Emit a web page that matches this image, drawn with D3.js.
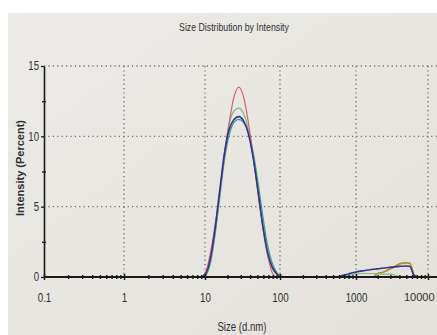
<!DOCTYPE html>
<html>
<head>
<meta charset="utf-8">
<script src="https://cdn.jsdelivr.net/npm/d3@7"></script>
<style>
  html, body { margin: 0; padding: 0; background: #ffffff; }
  svg { display: block; }
  text { font-family: "Liberation Sans Narrow", "Liberation Sans", Arial, sans-serif; fill: #2e2e2e; }
</style>
</head>
<body>
<svg id="chart" width="437" height="335"></svg>
<script>
// ---- data ----
const title = "Size Distribution by Intensity";
const xLabel = "Size (d.nm)";
const yLabel = "Intensity (Percent)";

const sizes = [0.4, 0.4632, 0.5365, 0.6213, 0.7195, 0.8332, 0.9649, 1.117, 1.294, 1.499,
  1.736, 2.010, 2.328, 2.696, 3.122, 3.615, 4.187, 4.849, 5.615, 6.503,
  7.531, 8.721, 10.10, 11.70, 13.54, 15.69, 18.17, 21.04, 24.36, 28.21,
  32.67, 37.84, 43.82, 50.75, 58.77, 68.06, 78.82, 91.28, 105.7, 122.4,
  141.8, 164.2, 190.1, 220.2, 255.0, 295.3, 342.0, 396.1, 458.7, 531.2,
  615.1, 712.4, 825.0, 955.4, 1106, 1281, 1484, 1718, 1990, 2305,
  2669, 3091, 3580, 4145, 4801, 5560, 6439, 7456, 8635, 10000];

const recordOrange = [0,0,0,0,0,0,0,0,0,0, 0,0,0,0,0,0,0,0,0,0,
  0,0,0,0,0,0,0,0,0,0, 0,0,0,0,0,0,0,0,0,0,
  0,0,0,0,0,0,0,0,0,0, 0,0,0,0,0,0,0,0,0.25,0.32,
  0.45,0.6,0.8,0.95,1.0,0.98,0.15,0,0,0];

const recordTeal = [0,0,0,0,0,0,0,0,0,0, 0,0,0,0,0,0,0,0,0,0,
  0,0,0.1,0.9,2.9,5.6,8.3,10.1,11.0,11.2,
  11.0,10.3,8.9,6.8,4.4,2.3,1.0,0.3,0.05,0,
  0,0,0,0,0,0,0,0,0,0, 0,0,0,0,0,0,0,0,0,0,
  0,0,0,0,0,0,0,0,0,0];

const recordGreen = [0,0,0,0,0,0,0,0,0,0, 0,0,0,0,0,0,0,0,0,0,
  0,0,0.1,1.0,3.0,5.9,8.8,10.9,11.8,12.0,
  11.6,10.5,8.6,6.1,3.6,1.6,0.6,0.15,0,0,
  0,0,0,0,0,0,0,0,0,0, 0,0,0.15,0.2,0.25,0.25,0.25,0.25,0.25,0.2,
  0.2,0.2,0.1,0,0,0,0,0,0,0];

const recordRed = [0,0,0,0,0,0,0,0,0,0, 0,0,0,0,0,0,0,0,0,0,
  0,0,0.3,1.6,3.6,6.0,8.6,11.0,12.8,13.5,
  12.8,11.0,8.6,6.0,3.6,1.6,0.3,0,0,0,
  0,0,0,0,0,0,0,0,0,0, 0,0,0,0,0,0,0,0,0,0,
  0,0,0,0,0,0,0,0,0,0];

const recordBlue = [0,0,0,0,0,0,0,0,0,0, 0,0,0,0,0,0,0,0,0,0,
  0,0,0.2,1.2,3.3,6.1,8.8,10.5,11.2,11.4,
  11.1,10.2,8.5,6.2,3.7,1.8,0.7,0.2,0,0,
  0,0,0,0,0,0,0,0,0,0, 0.05,0.15,0.25,0.33,0.4,0.45,0.5,0.55,0.58,0.62,
  0.66,0.7,0.73,0.76,0.78,0.76,0.1,0,0,0];

const seriesValues = [recordOrange, recordTeal, recordGreen, recordRed, recordBlue];
const seriesColors = ["#b9892a", "#3f9e93", "#79bd7e", "#d6606f", "#2f3487"];
const seriesWidths = [1.8, 1.2, 1.2, 1.2, 1.6];

const xTicks = [0.1, 1, 10, 100, 1000, 10000];
const xTickLabels = ["0.1", "1", "10", "100", "1000", "10000"];
const yTicks = [0, 5, 10, 15];

// ---- drawing ----
const svg = d3.select("#chart");
const W = 437, H = 335;

// photo-like backdrop
svg.append("rect").attr("width", W).attr("height", H).attr("fill", "#ffffff");
const grad = svg.append("defs").append("linearGradient").attr("id", "bg")
  .attr("x1", "0").attr("y1", "0").attr("x2", "1").attr("y2", "1");
grad.append("stop").attr("offset", "0").attr("stop-color", "#ecebe7");
grad.append("stop").attr("offset", "1").attr("stop-color", "#e4e1db");
svg.append("rect").attr("x", 8).attr("y", 13).attr("width", W - 8).attr("height", H - 13)
  .attr("fill", "url(#bg)");

const x = d3.scaleLog().domain(xTicks).range([44, 124, 205, 280, 356, 428]);
const y = d3.scaleLinear().domain([0, 15]).range([277, 66]);

function condense(sel, f) {
  sel.each(function () {
    const w = this.getComputedTextLength();
    d3.select(this).attr("textLength", w * f).attr("lengthAdjust", "spacingAndGlyphs");
  });
}

// grid (dotted)
const grid = svg.append("g").attr("stroke", "#6d6d6d").attr("stroke-width", 1.4)
  .attr("stroke-dasharray", "1.2,3.2").attr("fill", "none");
grid.selectAll("line.h").data([5, 10, 15]).join("line")
  .attr("x1", x(0.1)).attr("x2", W).attr("y1", d => y(d)).attr("y2", d => y(d));
grid.selectAll("line.v").data([1, 10, 100, 1000, 10000]).join("line")
  .attr("x1", d => x(d)).attr("x2", d => x(d)).attr("y1", y(15)).attr("y2", y(0));

// series lines
const line = d3.line().x((d, i) => x(sizes[i])).y(d => y(d)).curve(d3.curveMonotoneX);
svg.append("g").selectAll("path").data(seriesValues).join("path")
  .attr("d", d => line(d))
  .attr("fill", "none")
  .attr("stroke", (d, i) => seriesColors[i])
  .attr("stroke-width", (d, i) => seriesWidths[i]);

// x axis
const xAxis = svg.append("g").attr("transform", `translate(0,${y(0)})`)
  .call(d3.axisBottom(x).tickValues(xTicks).tickFormat((d, i) => xTickLabels[i])
    .tickSizeInner(3).tickSizeOuter(0).tickPadding(13));
xAxis.select(".domain").attr("stroke", "#1a1a1a").attr("stroke-width", 2)
  .attr("d", `M${x(0.1)},0H${W}`);
xAxis.selectAll(".tick line").attr("y1", -3).attr("stroke", "#1a1a1a").attr("stroke-width", 1.5);
xAxis.selectAll(".tick text").attr("font-size", 12.5).attr("fill", "#2e2e2e")
  .style("font-family", "'Liberation Sans Narrow','Liberation Sans',Arial,sans-serif");
xAxis.selectAll(".tick text").filter(d => d !== 10000).call(condense, 0.78);
// keep the last label inside the window (no glyph squeezing, smaller size)
xAxis.selectAll(".tick text").filter(d => d === 10000)
  .attr("font-size", 11).attr("text-anchor", "end").attr("x", W - x(10000) - 3);

const minor = [];
[0.1, 1, 10, 100, 1000].forEach(dec => { for (let k = 2; k <= 9; k++) minor.push(dec * k); });
svg.append("g").attr("transform", `translate(0,${y(0)})`)
  .call(d3.axisBottom(x).tickValues(minor).tickFormat("").tickSizeInner(2).tickSizeOuter(0))
  .call(g => g.select(".domain").remove())
  .call(g => g.selectAll(".tick line").attr("y1", -2).attr("stroke", "#1a1a1a").attr("stroke-width", 1.4));

// y axis
const yAxis = svg.append("g").attr("transform", `translate(${x(0.1)},0)`)
  .call(d3.axisLeft(y).tickValues(yTicks).tickSizeInner(3).tickSizeOuter(0).tickPadding(2));
yAxis.select(".domain").attr("stroke", "#1a1a1a").attr("stroke-width", 1.6);
yAxis.selectAll(".tick line").attr("stroke", "#1a1a1a").attr("stroke-width", 1.3);
yAxis.selectAll(".tick text").attr("font-size", 12).attr("fill", "#2e2e2e")
  .style("font-family", "'Liberation Sans Narrow','Liberation Sans',Arial,sans-serif")
  .call(condense, 0.8);
svg.append("g").attr("transform", `translate(${x(0.1)},0)`)
  .call(d3.axisLeft(y).tickValues([2.5, 7.5, 12.5]).tickFormat("").tickSizeInner(2).tickSizeOuter(0))
  .call(g => g.select(".domain").remove())
  .call(g => g.selectAll(".tick line").attr("x1", 2).attr("stroke", "#1a1a1a").attr("stroke-width", 1.4));

// titles
svg.append("text").attr("x", 234).attr("y", 31).attr("text-anchor", "middle")
  .attr("font-size", 11.5).attr("fill", "#1e1e1e").text(title).call(condense, 0.76);
svg.append("text").attr("x", 242).attr("y", 331).attr("text-anchor", "middle")
  .attr("font-size", 12).text(xLabel).call(condense, 0.8);
svg.append("text").attr("transform", "translate(24,168) rotate(-90)").attr("text-anchor", "middle")
  .attr("font-size", 11).attr("font-weight", "bold").attr("fill", "#3a3a3a")
  .style("font-family", "'Liberation Sans','DejaVu Sans',Arial,sans-serif")
  .text(yLabel);
</script>
</body>
</html>
